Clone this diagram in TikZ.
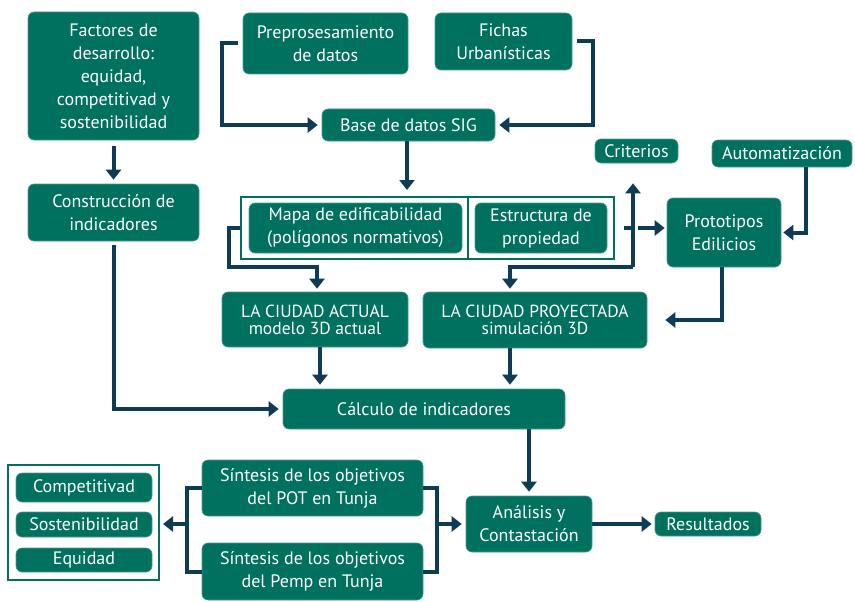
\documentclass[tikz,border=0pt]{standalone}
\usepackage{fontspec}
\setmainfont{PT Sans}
\usetikzlibrary{arrows.meta}
\definecolor{boxteal}{HTML}{00705F}
\definecolor{boxrim}{HTML}{4E9C8E}
\definecolor{navy}{HTML}{0E3C57}
\begin{document}
\begin{tikzpicture}[x=1pt,y=-1pt,
 box/.style={fill=boxteal, draw=boxrim, line width=0.6pt, rounded corners=6pt, text=white, align=center, font=\fontsize{18}{23}\selectfont, inner sep=0pt},
 smallbox/.style={box, font=\fontsize{17.5}{17}\selectfont},
 frame/.style={draw=boxteal, line width=2pt, fill=white, inner sep=0pt},
 conn/.style={draw=navy, line width=4pt},
 arr/.style={conn, -{Triangle[width=15pt,length=10pt]}},
]
\useasboundingbox (0,0) rectangle (855,602);

% top-left column
\node[box, minimum width=171pt, minimum height=128pt] (fac) at (113.5,76) {Factores de\\desarrollo:\\equidad,\\competitivad y\\sostenibilidad};
\node[box, minimum width=171pt, minimum height=57pt] (con) at (113.5,212.5) {Construcción de\\indicadores};

% top row
\node[box, minimum width=165pt, minimum height=61pt] (pre) at (325.5,43.5) {Preprosesamiento\\de datos};
\node[box, minimum width=137pt, minimum height=57pt] (fic) at (503.5,41.5) {Fichas\\Urbanísticas};
\node[box, minimum width=173pt, minimum height=32pt] (base) at (408.5,125) {Base de datos SIG};
\node[box, minimum width=83pt, minimum height=24pt] (cri) at (636.5,151) {Criterios};
\node[box, minimum width=140pt, minimum height=27pt] (aut) at (782,153.5) {Automatización};

% middle frame
\node[frame, minimum width=373pt, minimum height=62pt] (outer) at (427.5,228) {};
\node[box, minimum width=213pt, minimum height=50pt] (mapa) at (355.5,228) {Mapa de edificabilidad\\(polígonos normativos)};
\node[box, minimum width=132pt, minimum height=50pt] (est) at (541,228) {Estructura de\\propiedad};
\coordinate (dtop) at (468,197);
\coordinate (dbot) at (468,259);
\draw[boxteal, line width=1.5pt] (dtop) -- (dbot);

\node[box, minimum width=114pt, minimum height=69pt] (pro) at (724,232.5) {Prototipos\\Edilicios};

% city models
\node[smallbox, minimum width=186pt, minimum height=55pt] (act) at (315,319.5) {LA CIUDAD ACTUAL\\modelo 3D actual};
\node[smallbox, minimum width=224pt, minimum height=56pt] (pry) at (535,320) {LA CIUDAD PROYECTADA\\simulación 3D};

\node[box, minimum width=282pt, minimum height=40pt] (calc) at (424,409) {Cálculo de indicadores};

% bottom
\node[box, minimum width=221pt, minimum height=56pt] (pot) at (312.5,488) {Síntesis de los objetivos\\del POT en Tunja};
\node[box, minimum width=221pt, minimum height=57pt] (pemp) at (312.5,571.5) {Síntesis de los objetivos\\del Pemp en Tunja};
\node[box, minimum width=126pt, minimum height=56pt] (ana) at (529,524) {Análisis y\\Contastación};
\node[box, minimum width=106pt, minimum height=24pt] (res) at (708,524) {Resultados};

\node[frame, minimum width=151pt, minimum height=115pt] (lout) at (83.5,522.5) {};
\node[box, minimum width=136pt, minimum height=29pt] (comp) at (84,487.5) {Competitivad};
\node[box, minimum width=136pt, minimum height=25pt] (sos) at (84,524.5) {Sostenibilidad};
\node[box, minimum width=136pt, minimum height=24pt] (equ) at (84,560) {Equidad};

% connectors
\draw[arr, shorten <=6pt, shorten >=4pt] (fac.south) -- (con.north);
\draw[arr, shorten >=4pt] ([xshift=-5pt]pre.west) -- ++(-16,0) |- (base.west);
\draw[arr, shorten >=4pt] ([xshift=5pt]fic.east) -- ++(16,0) |- (base.east);
\draw[arr, shorten >=6pt] ([xshift=-1.5pt]base.south) -- ([xshift=-1.5pt]base.south |- outer.north);

\coordinate (lj) at (229,267);
\coordinate (lk) at (317,267);
\draw[arr, shorten >=3pt] (outer.west) -| (lj) -- (lk) -- (lk |- act.north);

\coordinate (rj) at (633,267);
\coordinate (rk) at (510,267);
\draw[arr, shorten >=20pt] (rj) -- (rj |- cri.south);
\draw[arr, shorten >=3pt] (rj) -- (rk) -- (rk |- pry.north);

\draw[arr, dash pattern=on 7pt off 7pt on 60pt, shorten >=2pt] ([xshift=9pt]outer.east) -- (outer.east -| pro.west);

\draw[arr, shorten >=2pt] ([xshift=24pt]aut.south) |- (pro.east);
\draw[arr] ([xshift=-2pt]pro.south) |- ([xshift=18pt]pry.east);

\draw[arr, shorten >=4pt] ([xshift=5pt]act.south) -- ([xshift=5pt]act.south |- calc.north);
\draw[arr, shorten >=4pt] (rk |- pry.south) -- (rk |- calc.north);
\draw[arr, shorten <=4pt, shorten >=4pt] (con.south) |- (calc.west);
\draw[arr, shorten >=4pt] (calc.south -| ana.north) -- (ana.north);

\coordinate (br1) at (437,488);
\coordinate (br2) at (437,572);
\coordinate (brm) at (437,524);
\draw[conn] (pot.east) -- (br1) -- (br2) -- (pemp.east |- br2);
\draw[arr, shorten >=4pt] (brm) -- (ana.west);

\coordinate (bl1) at (187,488);
\coordinate (bl2) at (187,572);
\coordinate (blm) at (187,524);
\draw[conn] (pot.west) -- (bl1) -- (bl2) -- (pemp.west |- bl2);
\draw[arr, shorten >=3pt] (blm) -- (blm -| lout.east);

\draw[arr, shorten >=3pt] (ana.east) -- (res.west);
\end{tikzpicture}
\end{document}
